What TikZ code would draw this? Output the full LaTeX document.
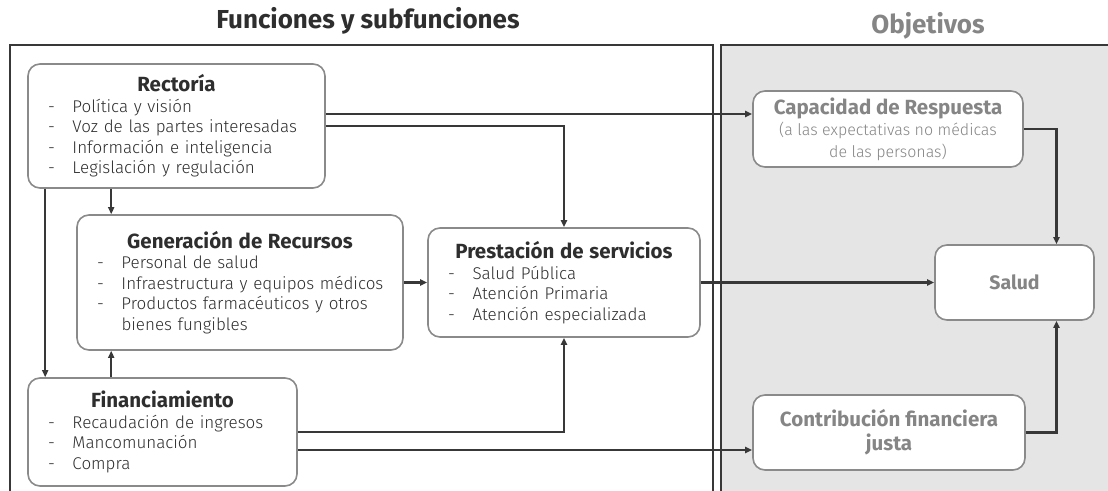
\documentclass[tikz,border=0pt]{standalone}
\usepackage{fontspec}
\setmainfont{Fira Sans Light}[BoldFont={Fira Sans Bold}]
\newfontfamily\heavy{Fira Sans Bold}
\usepackage{xcolor}
\usepackage{tikz}
\usetikzlibrary{arrows.meta, positioning}

\definecolor{ink}{HTML}{2E2E2E}
\definecolor{wire}{HTML}{383838}
\definecolor{boxgray}{HTML}{8A8A8A}
\definecolor{goalgray}{HTML}{858585}
\definecolor{panelfill}{HTML}{E5E5E5}

\newcommand{\itm}[1]{\mbox{\makebox[24.5pt][l]{-}#1}}
\newcommand{\cont}[1]{\mbox{\hspace*{24.5pt}#1}}
\newcommand{\boxtitle}[1]{\makebox[\linewidth]{\fontsize{20.5}{20.5}\selectfont\bfseries #1}}

\begin{document}
\begin{tikzpicture}[
  x=1pt, y=-1pt,
  >={Triangle[length=7pt, width=6pt]},
  func/.style={rectangle, rounded corners=12pt, draw=boxgray, line width=1.6pt, fill=white, inner xsep=20pt, inner ysep=0pt, align=left, text=ink, font=\fontsize{17}{20.5}\selectfont},
  goal/.style={rectangle, rounded corners=12pt, draw=boxgray, line width=1.6pt, fill=white, inner sep=0pt, align=center, text=goalgray, font=\fontsize{16}{21.5}\selectfont},
  heading/.style={font=\fontsize{26}{28}\selectfont\heavy},
  link/.style={->, draw=wire, line width=2.2pt},
  panel/.style={draw=wire, line width=2.2pt},
]
  \useasboundingbox (0,0) rectangle (1108,490);
  \clip (0,0) rectangle (1108,490);

  \draw[panel] (10,45) rectangle (713,505);
  \draw[panel, fill=panelfill] (721,45) rectangle (1125,505);

  \node[heading, text=ink] (hfun) at (368,21) {Funciones y subfunciones};
  \node[heading, text=goalgray] (hobj) at (928,26) {Objetivos};

  \node[func, minimum width=297pt, minimum height=124pt, text width=257pt] (rect) at (176.5,126) {\boxtitle{Rectoría}\\
    \itm{Política y visión}\\ \itm{Voz de las partes interesadas}\\ \itm{Información e inteligencia}\\ \itm{Legislación y regulación}};
  \node[func, minimum width=326pt, minimum height=135pt, text width=286pt] (gen) at (240,282.5) {\boxtitle{Generación de Recursos}\\
    \itm{Personal de salud}\\ \itm{Infraestructura y equipos médicos}\\ \itm{Productos farmacéuticos y otros}\\ \cont{bienes fungibles}};
  \node[func, minimum width=272pt, minimum height=109pt, text width=232pt] (prest) at (564,282.5) {\boxtitle{Prestación de servicios}\\
    \itm{Salud Pública}\\ \itm{Atención Primaria}\\ \itm{Atención especializada}};
  \node[func, minimum width=269pt, minimum height=108pt, text width=229pt] (fin) at (162.5,432) {\boxtitle{Financiamiento}\\
    \itm{Recaudación de ingresos}\\ \itm{Mancomunación}\\ \itm{Compra}};

  \node[goal, minimum width=270pt, minimum height=76pt] (cap) at (888,129) {{\fontsize{20.5}{22.5}\selectfont\heavy Capacidad de Respuesta}\\
    (a las expectativas no médicas\\ de las personas)};
  \node[goal, minimum width=159pt, minimum height=75pt, font=\fontsize{19.5}{22}\selectfont\heavy] (salud) at (1014.5,282.5) {Salud};
  \node[goal, minimum width=272pt, minimum height=75pt, font=\fontsize{20.5}{24}\selectfont\heavy] (contrib) at (889,432.5) {Contribución financiera\\ justa};

  \coordinate (r1) at ([xshift=18pt]rect.south west);
  \coordinate (r2) at ([xshift=84pt]rect.south west);
  \coordinate (f2) at ([xshift=84pt]fin.north west);
  \coordinate (s1) at ([xshift=42pt]salud.north);
  \coordinate (s2) at ([xshift=42pt]salud.south);

  \draw[link] ([yshift=12pt]rect.east) -- ([yshift=12pt]rect.east -| cap.west);
  \draw[link] (rect.east) -| (prest.north);
  \draw[link] (r1) -- (r1 |- fin.north);
  \draw[link] (r2) -- (r2 |- gen.north);
  \draw[link] (f2) -- (f2 |- gen.south);
  \draw[link] (gen.east) -- (prest.west);
  \draw[link] (fin.east) -| (prest.south);
  \draw[link] ([yshift=-18pt]fin.east) -- ([yshift=-18pt]fin.east -| contrib.west);
  \draw[link] (prest.east) -- (salud.west);
  \draw[link] (cap.east) -| (s1);
  \draw[link] (contrib.east) -| (s2);

\end{tikzpicture}
\end{document}
